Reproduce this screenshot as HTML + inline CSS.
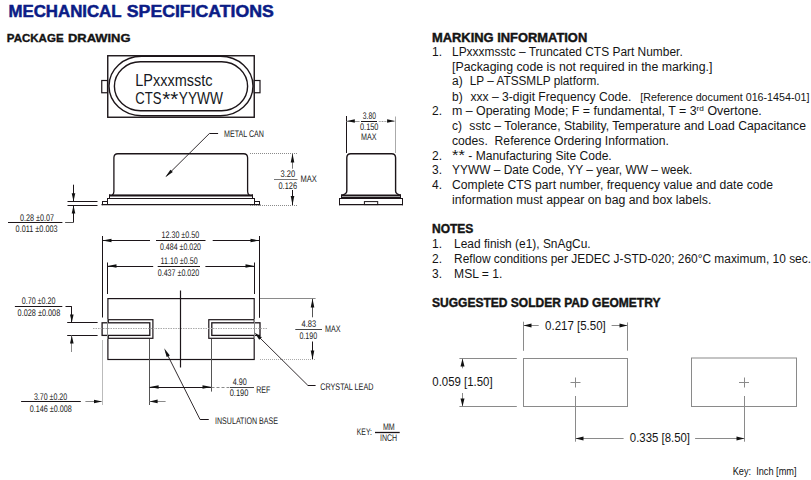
<!DOCTYPE html>
<html><head><meta charset="utf-8"><style>
html,body{margin:0;padding:0;background:#fff;width:811px;height:480px;overflow:hidden}
svg{display:block;position:absolute;left:0;top:0}
</style></head><body>
<svg width="811" height="480" viewBox="0 0 811 480">

<text x="8.5" y="16.8" font-size="16" font-weight="bold" fill="#0b1c86" font-family="Liberation Sans" textLength="113.0" lengthAdjust="spacingAndGlyphs" stroke="#0b1c86" stroke-width="0.5" >MECHANICAL</text>
<text x="126.8" y="16.8" font-size="16" font-weight="bold" fill="#0b1c86" font-family="Liberation Sans" textLength="147.0" lengthAdjust="spacingAndGlyphs" stroke="#0b1c86" stroke-width="0.5" >SPECIFICATIONS</text>
<text x="6.8" y="41.5" font-size="11" font-weight="bold" fill="#141414" font-family="Liberation Sans" textLength="56.8" lengthAdjust="spacingAndGlyphs" stroke="#141414" stroke-width="0.35" >PACKAGE</text>
<text x="68" y="41.5" font-size="11" font-weight="bold" fill="#141414" font-family="Liberation Sans" textLength="62.5" lengthAdjust="spacingAndGlyphs" stroke="#141414" stroke-width="0.35" >DRAWING</text>
<rect x="107.75" y="55.75" width="146.5" height="61.5" stroke="#1c1519" stroke-width="1.4" fill="none" rx="0" ry="0"/>
<rect x="101.75" y="80.5" width="5.75" height="12.25" stroke="#1c1519" stroke-width="1.2" fill="#fff" rx="0" ry="0"/>
<rect x="254.25" y="80.5" width="5.75" height="12.25" stroke="#1c1519" stroke-width="1.2" fill="#fff" rx="0" ry="0"/>
<rect x="109" y="56.25" width="144" height="59.5" stroke="#1c1519" stroke-width="1.4" fill="none" rx="32.5" ry="29.75"/>
<rect x="114.4" y="61.75" width="133.2" height="49" stroke="#1c1519" stroke-width="1.4" fill="none" rx="26" ry="24.5"/>
<text x="135.3" y="85.9" font-size="16" font-weight="normal" fill="#161822" font-family="Liberation Sans" textLength="77.2" lengthAdjust="spacingAndGlyphs" >LPxxxmsstc</text>
<text x="135.3" y="103.9" font-size="16" font-weight="normal" fill="#161822" font-family="Liberation Sans" textLength="26.2" lengthAdjust="spacingAndGlyphs" >CTS</text>
<text x="162.2" y="106" font-size="20" font-weight="normal" fill="#161822" font-family="Liberation Sans" textLength="16.1" lengthAdjust="spacingAndGlyphs" >**</text>
<text x="178.8" y="103.9" font-size="16" font-weight="normal" fill="#161822" font-family="Liberation Sans" textLength="44.2" lengthAdjust="spacingAndGlyphs" >YYWW</text>
<path d="M112.2,195.2 Q113.9,194 113.9,191.5 L113.9,157.8 Q113.9,153.75 117.9,153.75 L243.6,153.75 Q247.6,153.75 247.6,157.8 L247.6,191.5 Q247.6,194 249.4,195.2" stroke="#1c1519" stroke-width="1.3" fill="none"/>
<rect x="109.3" y="194.4" width="143.6" height="2.1" fill="#1c1519"/>
<line x1="109.5" y1="194.4" x2="109.5" y2="198.5" stroke="#1c1519" stroke-width="1"/>
<line x1="252.5" y1="194.4" x2="252.5" y2="198.5" stroke="#1c1519" stroke-width="1"/>
<line x1="107.5" y1="198.5" x2="254.3" y2="198.5" stroke="#1c1519" stroke-width="1"/>
<line x1="107.5" y1="198" x2="107.5" y2="205" stroke="#1c1519" stroke-width="1"/>
<line x1="254.5" y1="198" x2="254.5" y2="205" stroke="#1c1519" stroke-width="1"/>
<line x1="101.5" y1="204.6" x2="260.3" y2="204.6" stroke="#1c1519" stroke-width="1.3"/>
<line x1="102.3" y1="201.5" x2="107.7" y2="201.5" stroke="#1c1519" stroke-width="1"/>
<line x1="102.5" y1="201.1" x2="102.5" y2="205.2" stroke="#1c1519" stroke-width="1"/>
<line x1="254.2" y1="201.5" x2="259.8" y2="201.5" stroke="#1c1519" stroke-width="1"/>
<line x1="259.5" y1="201.1" x2="259.5" y2="205.2" stroke="#1c1519" stroke-width="1"/>
<line x1="209.4" y1="133.5" x2="218.1" y2="133.5" stroke="#1c1519" stroke-width="1"/>
<line x1="209.4" y1="133.5" x2="166.5" y2="176" stroke="#1c1519" stroke-width="0.9"/>
<polygon points="165.25,177.25 172.84,172.12 170.45,169.71" fill="#111"/>
<text x="224" y="137.1" font-size="9.6" font-weight="normal" fill="#222" font-family="Liberation Sans" textLength="40.0" lengthAdjust="spacingAndGlyphs"  text-rendering="geometricPrecision">METAL CAN</text>
<line x1="250" y1="153.5" x2="297" y2="153.5" stroke="#8a8a8a" stroke-width="1" stroke-dasharray="1,1"/>
<line x1="250" y1="205.5" x2="297" y2="205.5" stroke="#8a8a8a" stroke-width="1" stroke-dasharray="1,1"/>
<line x1="292.5" y1="154" x2="292.5" y2="168.7" stroke="#777" stroke-width="1"/>
<line x1="292.5" y1="190" x2="292.5" y2="205" stroke="#1c1519" stroke-width="1"/>
<polygon points="292.50,153.50 290.70,162.50 294.30,162.50" fill="#111"/>
<polygon points="292.50,205.00 290.70,196.00 294.30,196.00" fill="#111"/>
<line x1="274" y1="179.5" x2="297.5" y2="179.5" stroke="#777" stroke-width="1"/>
<text x="280.6" y="177.4" font-size="9.6" font-weight="normal" fill="#222" font-family="Liberation Sans" textLength="14.6" lengthAdjust="spacingAndGlyphs"  text-rendering="geometricPrecision">3.20</text>
<text x="278.5" y="188.8" font-size="9.6" font-weight="normal" fill="#222" font-family="Liberation Sans" textLength="18.5" lengthAdjust="spacingAndGlyphs"  text-rendering="geometricPrecision">0.126</text>
<text x="300.4" y="182.1" font-size="9.6" font-weight="normal" fill="#222" font-family="Liberation Sans" textLength="16.3" lengthAdjust="spacingAndGlyphs"  text-rendering="geometricPrecision">MAX</text>
<line x1="67.5" y1="201.5" x2="97.5" y2="201.5" stroke="#1c1519" stroke-width="1"/>
<line x1="67.5" y1="205.5" x2="97.5" y2="205.5" stroke="#1c1519" stroke-width="1"/>
<line x1="73.5" y1="184.7" x2="73.5" y2="201" stroke="#1c1519" stroke-width="1"/>
<polygon points="73.50,201.30 71.70,193.30 75.30,193.30" fill="#111"/>
<line x1="73.5" y1="205.5" x2="73.5" y2="222.5" stroke="#1c1519" stroke-width="1"/>
<polygon points="73.50,205.50 71.70,213.50 75.30,213.50" fill="#111"/>
<line x1="8" y1="222.5" x2="62.4" y2="222.5" stroke="#1c1519" stroke-width="1"/>
<line x1="65.1" y1="222.5" x2="73.5" y2="222.5" stroke="#555" stroke-width="1"/>
<text x="20" y="220.8" font-size="9.6" font-weight="normal" fill="#222" font-family="Liberation Sans" textLength="34.0" lengthAdjust="spacingAndGlyphs"  text-rendering="geometricPrecision">0.28 ±0.07</text>
<text x="15.6" y="231.9" font-size="9.6" font-weight="normal" fill="#222" font-family="Liberation Sans" textLength="42.0" lengthAdjust="spacingAndGlyphs"  text-rendering="geometricPrecision">0.011 ±0.003</text>
<line x1="346.5" y1="116" x2="346.5" y2="153" stroke="#1c1519" stroke-width="1"/>
<line x1="395.5" y1="116.5" x2="395.5" y2="153" stroke="#aaa" stroke-width="1"/>
<line x1="346.5" y1="121.5" x2="359.6" y2="121.5" stroke="#999" stroke-width="1"/>
<line x1="378.8" y1="121.5" x2="395.3" y2="121.5" stroke="#999" stroke-width="1" stroke-dasharray="1,0.6"/>
<polygon points="346.80,121.00 354.80,119.30 354.80,122.70" fill="#111"/>
<polygon points="395.10,121.00 387.10,119.30 387.10,122.70" fill="#111"/>
<line x1="361" y1="121.5" x2="377" y2="121.5" stroke="#1c1519" stroke-width="1"/>
<text x="362.8" y="119.1" font-size="9.6" font-weight="normal" fill="#222" font-family="Liberation Sans" textLength="13.2" lengthAdjust="spacingAndGlyphs"  text-rendering="geometricPrecision">3.80</text>
<text x="360" y="130.4" font-size="9.6" font-weight="normal" fill="#222" font-family="Liberation Sans" textLength="18.4" lengthAdjust="spacingAndGlyphs"  text-rendering="geometricPrecision">0.150</text>
<text x="361" y="139.8" font-size="9.6" font-weight="normal" fill="#222" font-family="Liberation Sans" textLength="15.5" lengthAdjust="spacingAndGlyphs"  text-rendering="geometricPrecision">MAX</text>
<path d="M341.5,195.4 Q346.8,194 346.8,191 L346.8,157.8 Q346.8,153.75 350.8,153.75 L391.6,153.75 Q395.6,153.75 395.6,157.8 L395.6,191 Q395.6,194 400.9,195.4" stroke="#1c1519" stroke-width="1.4" fill="none"/>
<rect x="341.3" y="194.5" width="59.5" height="1.5" fill="#1c1519"/>
<rect x="341.3" y="196" width="59.5" height="1.0" fill="#999"/>
<rect x="341.3" y="197" width="59.5" height="1.6" fill="#1c1519"/>
<line x1="341.5" y1="194.5" x2="341.5" y2="198.5" stroke="#1c1519" stroke-width="1"/>
<line x1="400.5" y1="194.5" x2="400.5" y2="198.5" stroke="#1c1519" stroke-width="1"/>
<line x1="339.2" y1="198.5" x2="402.8" y2="198.5" stroke="#1c1519" stroke-width="1.2"/>
<line x1="339.5" y1="198" x2="339.5" y2="205.3" stroke="#1c1519" stroke-width="1"/>
<line x1="402.5" y1="198" x2="402.5" y2="205.3" stroke="#1c1519" stroke-width="1"/>
<line x1="339.2" y1="204.6" x2="402.8" y2="204.6" stroke="#1c1519" stroke-width="1.3"/>
<rect x="364.4" y="201.6" width="13.3" height="3" stroke="#1c1519" stroke-width="1" fill="none" rx="0" ry="0"/>
<line x1="102.5" y1="236" x2="102.5" y2="317.5" stroke="#1c1519" stroke-width="1"/>
<line x1="102.5" y1="340" x2="102.5" y2="405" stroke="#bbb" stroke-width="1"/>
<line x1="259.5" y1="236" x2="259.5" y2="317.8" stroke="#1c1519" stroke-width="1"/>
<line x1="102.5" y1="240.5" x2="150" y2="240.5" stroke="#1c1519" stroke-width="1"/>
<line x1="212.7" y1="240.5" x2="259.5" y2="240.5" stroke="#1c1519" stroke-width="1"/>
<polygon points="102.50,240.50 111.50,238.70 111.50,242.30" fill="#111"/>
<polygon points="259.50,240.50 250.50,238.70 250.50,242.30" fill="#111"/>
<line x1="156" y1="240.5" x2="205.5" y2="240.5" stroke="#1c1519" stroke-width="1"/>
<text x="161.5" y="238.4" font-size="9.6" font-weight="normal" fill="#222" font-family="Liberation Sans" textLength="37.7" lengthAdjust="spacingAndGlyphs"  text-rendering="geometricPrecision">12.30 ±0.50</text>
<text x="160" y="250.0" font-size="9.6" font-weight="normal" fill="#222" font-family="Liberation Sans" textLength="41.0" lengthAdjust="spacingAndGlyphs"  text-rendering="geometricPrecision">0.484 ±0.020</text>
<line x1="107.5" y1="262.5" x2="107.5" y2="294" stroke="#1c1519" stroke-width="1"/>
<line x1="254.5" y1="262.5" x2="254.5" y2="294" stroke="#1c1519" stroke-width="1"/>
<line x1="107.5" y1="266.5" x2="153.2" y2="266.5" stroke="#1c1519" stroke-width="1"/>
<line x1="205.4" y1="266.5" x2="254.5" y2="266.5" stroke="#1c1519" stroke-width="1"/>
<polygon points="107.50,266.00 116.50,264.20 116.50,267.80" fill="#111"/>
<polygon points="254.50,266.00 245.50,264.20 245.50,267.80" fill="#111"/>
<line x1="157.7" y1="266.5" x2="200" y2="266.5" stroke="#1c1519" stroke-width="1"/>
<text x="160.6" y="263.9" font-size="9.6" font-weight="normal" fill="#222" font-family="Liberation Sans" textLength="37.0" lengthAdjust="spacingAndGlyphs"  text-rendering="geometricPrecision">11.10 ±0.50</text>
<text x="157.7" y="275.7" font-size="9.6" font-weight="normal" fill="#222" font-family="Liberation Sans" textLength="41.5" lengthAdjust="spacingAndGlyphs"  text-rendering="geometricPrecision">0.437 ±0.020</text>
<rect x="107.9" y="298.6" width="146.3" height="60.9" stroke="#1c1519" stroke-width="1.2" fill="none" rx="0" ry="0"/>
<rect x="108.3" y="319.7" width="44.6" height="18.6" stroke="#1c1519" stroke-width="1.2" fill="#fff" rx="0" ry="0"/>
<rect x="102.1" y="322.8" width="47.7" height="12.6" stroke="#1c1519" stroke-width="1.3" fill="#fff" rx="0" ry="0"/>
<rect x="208.8" y="319.7" width="45.4" height="18.6" stroke="#1c1519" stroke-width="1.2" fill="#fff" rx="0" ry="0"/>
<rect x="211.8" y="322.8" width="48.2" height="12.6" stroke="#1c1519" stroke-width="1.3" fill="#fff" rx="0" ry="0"/>
<line x1="107.5" y1="319" x2="107.5" y2="339" stroke="#888" stroke-width="1"/>
<line x1="254.5" y1="319" x2="254.5" y2="339" stroke="#888" stroke-width="1"/>
<line x1="93" y1="328.5" x2="268" y2="328.5" stroke="#aaa" stroke-width="1" stroke-dasharray="1.5,1"/>
<line x1="180.5" y1="290.5" x2="180.5" y2="367.5" stroke="#1c1519" stroke-width="1.2"/>
<line x1="260" y1="298.5" x2="315.6" y2="298.5" stroke="#8a8a8a" stroke-width="1"/>
<line x1="260" y1="359.5" x2="315.6" y2="359.5" stroke="#aaa" stroke-width="1" stroke-dasharray="1,1"/>
<line x1="312.5" y1="299" x2="312.5" y2="317.3" stroke="#555" stroke-width="1"/>
<line x1="312.5" y1="341.5" x2="312.5" y2="359" stroke="#1c1519" stroke-width="1"/>
<polygon points="312.50,298.50 310.70,307.50 314.30,307.50" fill="#111"/>
<polygon points="312.50,359.50 310.70,350.50 314.30,350.50" fill="#111"/>
<line x1="295.3" y1="329.5" x2="322" y2="329.5" stroke="#444" stroke-width="1"/>
<text x="301.6" y="327.0" font-size="9.6" font-weight="normal" fill="#222" font-family="Liberation Sans" textLength="14.6" lengthAdjust="spacingAndGlyphs"  text-rendering="geometricPrecision">4.83</text>
<text x="299.4" y="339.1" font-size="9.6" font-weight="normal" fill="#222" font-family="Liberation Sans" textLength="17.8" lengthAdjust="spacingAndGlyphs"  text-rendering="geometricPrecision">0.190</text>
<text x="325" y="332.3" font-size="9.6" font-weight="normal" fill="#222" font-family="Liberation Sans" textLength="15.6" lengthAdjust="spacingAndGlyphs"  text-rendering="geometricPrecision">MAX</text>
<line x1="67.2" y1="322.5" x2="97.6" y2="322.5" stroke="#1c1519" stroke-width="1"/>
<line x1="67.2" y1="335.5" x2="97.6" y2="335.5" stroke="#1c1519" stroke-width="1"/>
<line x1="14.9" y1="306.5" x2="62.3" y2="306.5" stroke="#1c1519" stroke-width="1"/>
<line x1="65.5" y1="306.5" x2="71.8" y2="306.5" stroke="#1c1519" stroke-width="1"/>
<line x1="71.5" y1="306.5" x2="71.5" y2="322.5" stroke="#1c1519" stroke-width="1"/>
<polygon points="71.80,322.60 70.00,314.60 73.60,314.60" fill="#111"/>
<line x1="71.5" y1="335.5" x2="71.5" y2="352" stroke="#8a8a8a" stroke-width="1"/>
<polygon points="71.80,335.50 70.00,343.50 73.60,343.50" fill="#111"/>
<text x="21.7" y="304.2" font-size="9.6" font-weight="normal" fill="#222" font-family="Liberation Sans" textLength="33.8" lengthAdjust="spacingAndGlyphs"  text-rendering="geometricPrecision">0.70 ±0.20</text>
<text x="17.6" y="315.8" font-size="9.6" font-weight="normal" fill="#222" font-family="Liberation Sans" textLength="42.6" lengthAdjust="spacingAndGlyphs"  text-rendering="geometricPrecision">0.028 ±0.008</text>
<line x1="21.1" y1="401.5" x2="80.8" y2="401.5" stroke="#1c1519" stroke-width="1"/>
<line x1="85.4" y1="401.5" x2="101.6" y2="401.5" stroke="#8a8a8a" stroke-width="1"/>
<polygon points="102.00,401.50 94.00,399.70 94.00,403.30" fill="#111"/>
<text x="33.9" y="399.9" font-size="9.6" font-weight="normal" fill="#222" font-family="Liberation Sans" textLength="33.3" lengthAdjust="spacingAndGlyphs"  text-rendering="geometricPrecision">3.70 ±0.20</text>
<text x="29.8" y="411.5" font-size="9.6" font-weight="normal" fill="#222" font-family="Liberation Sans" textLength="42.0" lengthAdjust="spacingAndGlyphs"  text-rendering="geometricPrecision">0.146 ±0.008</text>
<line x1="149.5" y1="339" x2="149.5" y2="405" stroke="#555" stroke-width="1"/>
<line x1="211.5" y1="339" x2="211.5" y2="391.6" stroke="#555" stroke-width="1"/>
<line x1="149.6" y1="387.5" x2="211.5" y2="387.5" stroke="#1c1519" stroke-width="1"/>
<polygon points="149.60,387.00 158.60,385.20 158.60,388.80" fill="#111"/>
<polygon points="211.50,387.00 202.50,385.20 202.50,388.80" fill="#111"/>
<line x1="211.5" y1="387.5" x2="229" y2="387.5" stroke="#8a8a8a" stroke-width="1" stroke-dasharray="3,2"/>
<line x1="229.8" y1="387.5" x2="254" y2="387.5" stroke="#444" stroke-width="1"/>
<line x1="149.6" y1="401.5" x2="165.6" y2="401.5" stroke="#8a8a8a" stroke-width="1"/>
<polygon points="149.60,401.40 157.60,399.60 157.60,403.20" fill="#111"/>
<text x="232.8" y="385.4" font-size="9.6" font-weight="normal" fill="#222" font-family="Liberation Sans" textLength="14.1" lengthAdjust="spacingAndGlyphs"  text-rendering="geometricPrecision">4.90</text>
<text x="229.7" y="396.35" font-size="9.6" font-weight="normal" fill="#222" font-family="Liberation Sans" textLength="18.7" lengthAdjust="spacingAndGlyphs"  text-rendering="geometricPrecision">0.190</text>
<text x="256.25" y="392.6" font-size="9.6" font-weight="normal" fill="#222" font-family="Liberation Sans" textLength="14.1" lengthAdjust="spacingAndGlyphs"  text-rendering="geometricPrecision">REF</text>
<line x1="166" y1="352" x2="200.1" y2="419.6" stroke="#1c1519" stroke-width="0.9"/>
<line x1="200.1" y1="419.5" x2="208.75" y2="419.5" stroke="#1c1519" stroke-width="1"/>
<polygon points="164.20,348.20 166.63,357.05 169.85,355.43" fill="#111"/>
<text x="215" y="423.5" font-size="9.6" font-weight="normal" fill="#222" font-family="Liberation Sans" textLength="63.0" lengthAdjust="spacingAndGlyphs"  text-rendering="geometricPrecision">INSULATION BASE</text>
<line x1="258" y1="336" x2="307.8" y2="385.3" stroke="#1c1519" stroke-width="0.9"/>
<line x1="307.8" y1="385.5" x2="315.6" y2="385.5" stroke="#1c1519" stroke-width="1"/>
<polygon points="254.50,332.50 259.20,339.83 261.88,337.13" fill="#111"/>
<text x="320.3" y="389.5" font-size="9.6" font-weight="normal" fill="#222" font-family="Liberation Sans" textLength="53.1" lengthAdjust="spacingAndGlyphs"  text-rendering="geometricPrecision">CRYSTAL LEAD</text>
<text x="356.8" y="434.8" font-size="9.6" font-weight="normal" fill="#222" font-family="Liberation Sans" textLength="15.2" lengthAdjust="spacingAndGlyphs"  text-rendering="geometricPrecision">KEY:</text>
<text x="382.9" y="429.8" font-size="9.6" font-weight="normal" fill="#222" font-family="Liberation Sans" textLength="11.8" lengthAdjust="spacingAndGlyphs"  text-rendering="geometricPrecision">MM</text>
<line x1="375" y1="432.5" x2="399.7" y2="432.5" stroke="#1c1519" stroke-width="1.3"/>
<text x="380" y="440.7" font-size="9.6" font-weight="normal" fill="#222" font-family="Liberation Sans" textLength="17.2" lengthAdjust="spacingAndGlyphs"  text-rendering="geometricPrecision">INCH</text>
<text x="432" y="42" font-size="12" font-weight="bold" fill="#141414" font-family="Liberation Sans" textLength="155.2" lengthAdjust="spacingAndGlyphs" stroke="#141414" stroke-width="0.4" >MARKING INFORMATION</text>
<text x="432" y="56.1" font-size="12" font-weight="normal" fill="#141414" font-family="Liberation Sans" >1.</text>
<text x="452" y="56.1" font-size="12" font-weight="normal" fill="#141414" font-family="Liberation Sans" textLength="230.7" lengthAdjust="spacingAndGlyphs" >LPxxxmsstc – Truncated CTS Part Number.</text>
<text x="452" y="70.5" font-size="12" font-weight="normal" fill="#141414" font-family="Liberation Sans" textLength="260.4" lengthAdjust="spacingAndGlyphs" >[Packaging code is not required in the marking.]</text>
<text x="452" y="85.2" font-size="12" font-weight="normal" fill="#141414" font-family="Liberation Sans" >a)</text>
<text x="469.8" y="85.2" font-size="12" font-weight="normal" fill="#141414" font-family="Liberation Sans" textLength="129.7" lengthAdjust="spacingAndGlyphs" >LP – ATSSMLP platform.</text>
<text x="452" y="100.6" font-size="12" font-weight="normal" fill="#141414" font-family="Liberation Sans" >b)</text>
<text x="470.4" y="100.6" font-size="12" font-weight="normal" fill="#141414" font-family="Liberation Sans" textLength="160.9" lengthAdjust="spacingAndGlyphs" >xxx – 3-digit Frequency Code.</text>
<text x="640.3" y="100.6" font-size="10" font-weight="normal" fill="#141414" font-family="Liberation Sans" textLength="169.1" lengthAdjust="spacingAndGlyphs" >[Reference document 016-1454-01]</text>
<text x="432" y="114.8" font-size="12" font-weight="normal" fill="#141414" font-family="Liberation Sans" >2.</text>
<text x="452" y="114.8" font-size="12" fill="#141414" font-family="Liberation Sans" textLength="309.79999999999995" lengthAdjust="spacingAndGlyphs">m – Operating Mode; F = fundamental, T = 3<tspan font-size="8" dy="-4">rd</tspan><tspan dy="4"> Overtone.</tspan></text>
<text x="452" y="130" font-size="12" font-weight="normal" fill="#141414" font-family="Liberation Sans" >c)</text>
<text x="469.3" y="130" font-size="12" font-weight="normal" fill="#141414" font-family="Liberation Sans" textLength="336.7" lengthAdjust="spacingAndGlyphs" >sstc – Tolerance, Stability, Temperature and Load Capacitance</text>
<text x="452" y="145" font-size="12" font-weight="normal" fill="#141414" font-family="Liberation Sans" textLength="217.0" lengthAdjust="spacingAndGlyphs" xml:space="preserve">codes.  Reference Ordering Information.</text>
<text x="432" y="159.5" font-size="12" font-weight="normal" fill="#141414" font-family="Liberation Sans" >2.</text>
<text x="452" y="160.3" font-size="15" font-weight="normal" fill="#141414" font-family="Liberation Sans" textLength="12.8" lengthAdjust="spacingAndGlyphs" >**</text>
<text x="468.3" y="159.5" font-size="12" font-weight="normal" fill="#141414" font-family="Liberation Sans" textLength="143.4" lengthAdjust="spacingAndGlyphs" >- Manufacturing Site Code.</text>
<text x="432" y="173.75" font-size="12" font-weight="normal" fill="#141414" font-family="Liberation Sans" >3.</text>
<text x="452" y="173.75" font-size="12" font-weight="normal" fill="#141414" font-family="Liberation Sans" textLength="240.4" lengthAdjust="spacingAndGlyphs" >YYWW – Date Code, YY – year, WW – week.</text>
<text x="432" y="188.75" font-size="12" font-weight="normal" fill="#141414" font-family="Liberation Sans" >4.</text>
<text x="452" y="188.75" font-size="12" font-weight="normal" fill="#141414" font-family="Liberation Sans" textLength="321.0" lengthAdjust="spacingAndGlyphs" >Complete CTS part number, frequency value and date code</text>
<text x="452" y="203.75" font-size="12" font-weight="normal" fill="#141414" font-family="Liberation Sans" textLength="259.3" lengthAdjust="spacingAndGlyphs" >information must appear on bag and box labels.</text>
<text x="432" y="232.7" font-size="12" font-weight="bold" fill="#141414" font-family="Liberation Sans" stroke="#141414" stroke-width="0.4" >NOTES</text>
<text x="432" y="247.9" font-size="12" font-weight="normal" fill="#141414" font-family="Liberation Sans" >1.</text>
<text x="454.1" y="247.9" font-size="12" font-weight="normal" fill="#141414" font-family="Liberation Sans" textLength="136.5" lengthAdjust="spacingAndGlyphs" >Lead finish (e1), SnAgCu.</text>
<text x="432" y="262.9" font-size="12" font-weight="normal" fill="#141414" font-family="Liberation Sans" >2.</text>
<text x="454.1" y="262.9" font-size="12" font-weight="normal" fill="#141414" font-family="Liberation Sans" textLength="356.9" lengthAdjust="spacingAndGlyphs" >Reflow conditions per JEDEC J-STD-020; 260°C maximum, 10 sec.</text>
<text x="432" y="277.5" font-size="12" font-weight="normal" fill="#141414" font-family="Liberation Sans" >3.</text>
<text x="454.1" y="277.5" font-size="12" font-weight="normal" fill="#141414" font-family="Liberation Sans" textLength="48.3" lengthAdjust="spacingAndGlyphs" >MSL = 1.</text>
<text x="432" y="306.7" font-size="12" font-weight="bold" fill="#141414" font-family="Liberation Sans" textLength="228.4" lengthAdjust="spacingAndGlyphs" stroke="#141414" stroke-width="0.4" >SUGGESTED SOLDER PAD GEOMETRY</text>
<rect x="523.5" y="358.5" width="104" height="48" stroke="#8a8a8a" stroke-width="1" fill="none" rx="0" ry="0"/>
<rect x="691.5" y="358" width="105" height="48.5" stroke="#8a8a8a" stroke-width="1" fill="none" rx="0" ry="0"/>
<line x1="523.5" y1="321.7" x2="523.5" y2="350.8" stroke="#8a8a8a" stroke-width="1"/>
<line x1="627.5" y1="322.4" x2="627.5" y2="350.7" stroke="#8a8a8a" stroke-width="1"/>
<line x1="523.5" y1="325.5" x2="538.7" y2="325.5" stroke="#8a8a8a" stroke-width="1"/>
<line x1="611.6" y1="325.5" x2="627.5" y2="325.5" stroke="#8a8a8a" stroke-width="1"/>
<polygon points="523.50,325.50 531.50,323.50 531.50,327.50" fill="#111"/>
<polygon points="627.50,325.50 619.50,323.50 619.50,327.50" fill="#111"/>
<text x="545.1" y="329.8" font-size="12" font-weight="normal" fill="#141414" font-family="Liberation Sans" textLength="60.7" lengthAdjust="spacingAndGlyphs" >0.217 [5.50]</text>
<line x1="459.4" y1="358.5" x2="516.8" y2="358.5" stroke="#8a8a8a" stroke-width="1"/>
<line x1="459.4" y1="406.5" x2="516.8" y2="406.5" stroke="#8a8a8a" stroke-width="1"/>
<line x1="462.5" y1="358.5" x2="462.5" y2="368.3" stroke="#8a8a8a" stroke-width="1"/>
<line x1="462.5" y1="393" x2="462.5" y2="406.5" stroke="#8a8a8a" stroke-width="1"/>
<polygon points="462.50,358.50 460.50,366.50 464.50,366.50" fill="#111"/>
<polygon points="462.50,406.50 460.50,398.50 464.50,398.50" fill="#111"/>
<text x="432.3" y="386.4" font-size="12" font-weight="normal" fill="#141414" font-family="Liberation Sans" textLength="60.3" lengthAdjust="spacingAndGlyphs" >0.059 [1.50]</text>
<line x1="570.5" y1="382.5" x2="580.5" y2="382.5" stroke="#8a8a8a" stroke-width="1"/>
<line x1="575.5" y1="377.5" x2="575.5" y2="387.5" stroke="#8a8a8a" stroke-width="1"/>
<line x1="739" y1="382.5" x2="749" y2="382.5" stroke="#8a8a8a" stroke-width="1"/>
<line x1="744.5" y1="377.5" x2="744.5" y2="387.5" stroke="#8a8a8a" stroke-width="1"/>
<line x1="575.5" y1="396" x2="575.5" y2="441.7" stroke="#8a8a8a" stroke-width="1"/>
<line x1="744.5" y1="396" x2="744.5" y2="441.7" stroke="#8a8a8a" stroke-width="1"/>
<line x1="575.5" y1="438.5" x2="623.6" y2="438.5" stroke="#8a8a8a" stroke-width="1"/>
<line x1="695.1" y1="438.5" x2="744.5" y2="438.5" stroke="#8a8a8a" stroke-width="1"/>
<polygon points="575.50,438.50 583.50,436.50 583.50,440.50" fill="#111"/>
<polygon points="744.50,438.50 736.50,436.50 736.50,440.50" fill="#111"/>
<text x="629.8" y="442.2" font-size="12" font-weight="normal" fill="#141414" font-family="Liberation Sans" textLength="60.2" lengthAdjust="spacingAndGlyphs" >0.335 [8.50]</text>
<text x="732.7" y="474.6" font-size="10" font-weight="normal" fill="#141414" font-family="Liberation Sans" textLength="63.8" lengthAdjust="spacingAndGlyphs" xml:space="preserve">Key:  Inch [mm]</text>
</svg></body></html>
